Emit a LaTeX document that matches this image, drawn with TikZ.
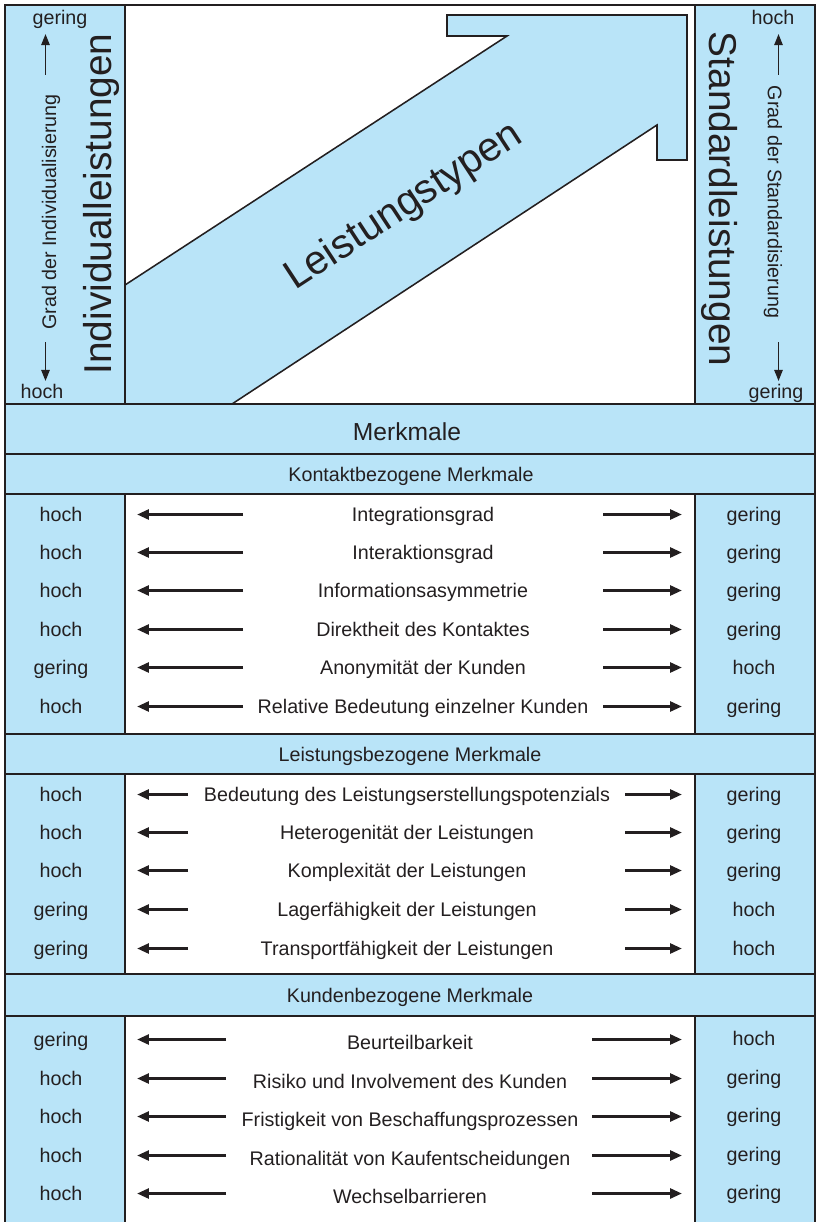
\documentclass[tikz,border=0pt]{standalone}
\usepackage{fontspec}
\setmainfont{Liberation Sans}
\usetikzlibrary{arrows.meta}

\definecolor{paleblue}{RGB}{185,228,248}
\definecolor{inkline}{RGB}{35,31,32}

\begin{document}
\begin{tikzpicture}[x=0.025cm, y=-0.025cm,
                    every node/.style={text=inkline, inner sep=0pt, font=\fontsize{14}{16}\selectfont},
                    val/.style={text height=12pt, text depth=2pt},
                    bigtext/.style={font=\fontsize{27.6}{30}\selectfont},
                    headtext/.style={font=\fontsize{17.5}{20}\selectfont},
                    frame/.style={draw=inkline, line width=1.4pt},
                    rowarrow/.style={-{Triangle[length=8.5pt, width=7pt]}, line width=2.1pt, draw=inkline},
                    scalearrow/.style={-{Triangle[length=8pt, width=6pt]}, line width=1.2pt, draw=inkline}
                ]
                \useasboundingbox (0,0) rectangle (817,1222);

                % blue panels
                \fill[paleblue] (5,5) rectangle (125,1240);
                \fill[paleblue] (695,5) rectangle (815,1240);
                \fill[paleblue] (5,404) rectangle (815,494);
                \fill[paleblue] (5,734) rectangle (815,774);
                \fill[paleblue] (5,974) rectangle (815,1016);

                % big arrow
                \draw[inkline, line width=1.1pt, fill=paleblue] (125,285) -- (507,36) -- (447,36) -- (447,15)
                    -- (687,15) -- (687,160) -- (657,160) -- (657,125) -- (232,404) -- (125,404);
                \node[bigtext, font=\fontsize{29}{32}\selectfont, rotate=33.2] (types) at (404,207) {Leistungstypen};

                % frame
                \draw[frame] (5,1240) -- (5,5) -- (815,5) -- (815,1240);
                \foreach \yy in {404,454,494,734,774,974,1016}
                    \draw[frame] (5,\yy) -- (815,\yy);
                \foreach \ya/\yb in {5/404, 494/734, 774/974, 1016/1240} {
                    \draw[frame] (125,\ya) -- (125,\yb);
                    \draw[frame] (695,\ya) -- (695,\yb);
                }

                % left column
                \node[bigtext, rotate=90] (indiv) at (101,204) {Individualleistungen};
                \node[rotate=90] (gradI) at (51,212) {Grad der Individualisierung};
                \node[val] (iTop) at (60,17) {gering};
                \node[val] (iBot) at (42,391) {hoch};
                \coordinate (iUpA) at (45.5,75);  \coordinate (iUpB) at (45.5,34);
                \coordinate (iDnA) at (45.5,342); \coordinate (iDnB) at (45.5,381);
                \draw[scalearrow] (iUpA) -- (iUpB);
                \draw[scalearrow] (iDnA) -- (iDnB);

                % right column
                \node[bigtext, rotate=-90] (stand) at (720,199) {Standardleistungen};
                \node[rotate=-90] (gradS) at (773,202) {Grad der Standardisierung};
                \node[val] (sTop) at (773,17) {hoch};
                \node[val] (sBot) at (776,391) {gering};
                \coordinate (sUpA) at (778.5,75);  \coordinate (sUpB) at (778.5,34);
                \coordinate (sDnA) at (778.5,342); \coordinate (sDnB) at (778.5,381);
                \draw[scalearrow] (sUpA) -- (sUpB);
                \draw[scalearrow] (sDnA) -- (sDnB);

                % headings
                \node[headtext] (merk) at (407,432) {Merkmale};
                \node[val] (kontakt) at (411,474) {Kontaktbezogene Merkmale};
                \node[val] (leist) at (410,754) {Leistungsbezogene Merkmale};
                \node[val] (kunden) at (410,995) {Kundenbezogene Merkmale};

                % Kontaktbezogene Merkmale
                \foreach \y/\l/\t/\r [count=\i] in {514.5/hoch/Integrationsgrad/gering,
                        552.5/hoch/Interaktionsgrad/gering, 590.5/hoch/Informationsasymmetrie/gering,
                        629.5/hoch/Direktheit des Kontaktes/gering, 667.5/gering/Anonymität der Kunden/hoch,
                        706.5/hoch/Relative Bedeutung einzelner Kunden/gering} {
                    \node[val] (kl\i) at (61,\y) {\l};
                    \node[val] (kt\i) at (423,\y) {\t};
                    \node[val] (kr\i) at (754,\y) {\r};
                    \coordinate (kla\i) at (243,\y); \coordinate (klb\i) at (137,\y);
                    \coordinate (kra\i) at (603,\y); \coordinate (krb\i) at (682,\y);
                    \draw[rowarrow] (kla\i) -- (klb\i);
                    \draw[rowarrow] (kra\i) -- (krb\i);
                }

                % Leistungsbezogene Merkmale
                \foreach \y/\l/\t/\r [count=\i] in {794.5/hoch/Bedeutung des Leistungserstellungspotenzials/gering,
                        832.5/hoch/Heterogenität der Leistungen/gering, 870.5/hoch/Komplexität der Leistungen/gering,
                        909.5/gering/Lagerfähigkeit der Leistungen/hoch, 948.5/gering/Transportfähigkeit der Leistungen/hoch} {
                    \node[val] (ll\i) at (61,\y) {\l};
                    \node[val] (lt\i) at (407,\y) {\t};
                    \node[val] (lr\i) at (754,\y) {\r};
                    \coordinate (lla\i) at (188,\y); \coordinate (llb\i) at (137,\y);
                    \coordinate (lra\i) at (625,\y); \coordinate (lrb\i) at (682,\y);
                    \draw[rowarrow] (lla\i) -- (llb\i);
                    \draw[rowarrow] (lra\i) -- (lrb\i);
                }

                % Kundenbezogene Merkmale
                \foreach \y/\l/\t/\r [count=\i] in {1039.5/gering/Beurteilbarkeit/hoch,
                        1078.5/hoch/Risiko und Involvement des Kunden/gering, 1116.5/hoch/Fristigkeit von Beschaffungsprozessen/gering,
                        1155.5/hoch/Rationalität von Kaufentscheidungen/gering, 1193.5/hoch/Wechselbarrieren/gering} {
                    \node[val] (ul\i) at (61,\y) {\l};
                    \node[val] (ut\i) at (410,\y+3) {\t};
                    \node[val] (ur\i) at (754,\y-1.5) {\r};
                    \coordinate (ula\i) at (226,\y); \coordinate (ulb\i) at (137,\y);
                    \coordinate (ura\i) at (592,\y); \coordinate (urb\i) at (682,\y);
                    \draw[rowarrow] (ula\i) -- (ulb\i);
                    \draw[rowarrow] (ura\i) -- (urb\i);
                }
                \end{tikzpicture}
\end{document}
